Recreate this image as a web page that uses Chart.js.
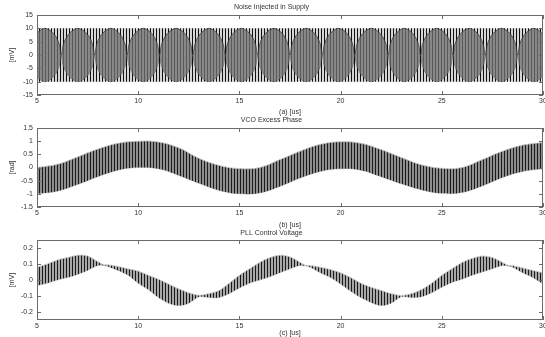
<!DOCTYPE html>
<html>
<head>
<meta charset="utf-8">
<script src="https://cdn.jsdelivr.net/npm/chart.js@4.4.1/dist/chart.umd.min.js"></script>
<style>
  html, body { margin: 0; padding: 0; background: #fff; }
  body { width: 545px; height: 337px; position: relative; overflow: hidden; }
  canvas { position: absolute; left: 0; }
</style>
</head>
<body>
<canvas id="noiseChart" width="545" height="116" style="top:0"></canvas>
<canvas id="phaseChart" width="545" height="116" style="top:113px"></canvas>
<canvas id="ctrlChart" width="545" height="112" style="top:225px"></canvas>
<script>
// data
const timeTicks = [5, 10, 15, 20, 25, 30];

// (a) noise: +-10 mV band, beat pattern crossings (us)
const noiseLevel = 10;
const beatCrossings = [4.6, 6.2, 7.85, 9.45, 11.05, 12.7, 14.3, 15.9, 17.5, 19.1, 20.7, 22.35, 23.95, 25.55, 27.15, 28.75, 30.35];
const lensPos = [0, 0.06, 0.17, 0.32, 0.5, 0.68, 0.83, 0.94];
const lensShape = [0, 0.4, 0.7, 0.9, 1, 0.9, 0.7, 0.4];

// (b) VCO excess phase envelope [rad]
const phaseTime = [5, 6, 7, 8, 9, 10, 11, 12, 13, 14, 15, 16, 17, 18, 19, 20, 21, 22, 23, 24, 25, 26, 27, 28, 29, 30];
const phaseUpper = [0.0, 0.12, 0.4, 0.7, 0.92, 1.0, 0.97, 0.75, 0.35, 0.08, -0.04, 0.0, 0.3, 0.62, 0.88, 0.98, 0.92, 0.68, 0.38, 0.1, -0.03, 0.0, 0.3, 0.62, 0.85, 0.95];
const phaseLower = [-1.0, -0.9, -0.65, -0.35, -0.1, 0.0, -0.05, -0.3, -0.6, -0.87, -1.0, -0.97, -0.72, -0.4, -0.15, -0.05, -0.1, -0.35, -0.62, -0.85, -0.98, -0.95, -0.7, -0.38, -0.15, -0.05];

// (c) PLL control voltage envelope [mV]
const ctrlTime = [5, 5.5, 6, 6.5, 7, 7.5, 8, 8.3, 8.5, 9, 9.5, 10, 10.5, 11, 11.5, 12, 12.5, 13, 13.5, 14, 14.5, 15, 15.5, 16, 16.5, 17, 17.5, 18, 18.3, 18.5, 19, 19.5, 20, 20.5, 21, 21.5, 22, 22.5, 23, 23.5, 24, 24.5, 25, 25.5, 26, 26.5, 27, 27.5, 28, 28.3, 28.5, 29, 29.5, 30];
const ctrlUpper = [0.08, 0.1, 0.125, 0.14, 0.155, 0.15, 0.115, 0.095, 0.095, 0.085, 0.07, 0.056, 0.03, 0.005, -0.025, -0.055, -0.08, -0.095, -0.085, -0.065, -0.02, 0.03, 0.07, 0.11, 0.14, 0.155, 0.145, 0.11, 0.09, 0.09, 0.08, 0.065, 0.045, 0.015, -0.02, -0.045, -0.065, -0.085, -0.097, -0.085, -0.06, -0.02, 0.03, 0.07, 0.11, 0.135, 0.15, 0.14, 0.11, 0.09, 0.09, 0.075, 0.06, 0.045];
const ctrlLower = [-0.035, -0.02, 0.0, 0.015, 0.035, 0.06, 0.09, 0.09, 0.085, 0.06, 0.03, -0.02, -0.06, -0.11, -0.145, -0.16, -0.145, -0.105, -0.11, -0.11, -0.085, -0.05, -0.02, 0.0, 0.02, 0.045, 0.07, 0.09, 0.088, 0.08, 0.045, 0.015, -0.025, -0.07, -0.11, -0.14, -0.16, -0.145, -0.105, -0.11, -0.105, -0.08, -0.045, -0.015, 0.005, 0.03, 0.05, 0.07, 0.09, 0.087, 0.08, 0.045, 0.015, -0.025];

const FONT = { family: "'Liberation Sans', Arial, sans-serif", size: 7, weight: 'normal' };
const TXT = '#333';

function stripes(ctx, dark, light, n) {
    const c = document.createElement('canvas');
    c.width = 1 + n; c.height = 1;
    const g = c.getContext('2d');
    g.fillStyle = light; g.fillRect(0, 0, c.width, 1);
    g.fillStyle = dark; g.fillRect(0, 0, 1, 1);
    return ctx.createPattern(c, 'repeat');
}

function pts(xs, ys) {
    return xs.map((x, i) => ({ x: x, y: ys[i] }));
}

// matlab style box with inward ticks
const frame = {
    id: 'frame',
    afterDraw(chart) {
        const { ctx, chartArea: a, scales: { x, y } } = chart;
        ctx.save();
        ctx.strokeStyle = '#6a6a6a';
        ctx.lineWidth = 1;
        ctx.strokeRect(Math.round(a.left) + 0.5, Math.round(a.top) + 0.5, Math.round(a.right - a.left) - 1, Math.round(a.bottom - a.top) - 1);
        ctx.beginPath();
        x.ticks.forEach(t => {
            const p = Math.round(x.getPixelForValue(t.value)) + 0.5;
            ctx.moveTo(p, a.bottom); ctx.lineTo(p, a.bottom - 4);
            ctx.moveTo(p, a.top); ctx.lineTo(p, a.top + 4);
        });
        y.ticks.forEach(t => {
            const p = Math.round(y.getPixelForValue(t.value)) + 0.5;
            ctx.moveTo(a.left, p); ctx.lineTo(a.left + 4, p);
            ctx.moveTo(a.right, p); ctx.lineTo(a.right - 4, p);
        });
        ctx.stroke();
        ctx.restore();
    }
};

function makeChart(id, datasets, cfg) {
    return new Chart(document.getElementById(id), {
        type: 'line',
        data: { datasets: datasets },
        options: {
            responsive: false,
            animation: false,
            events: [],
            layout: { padding: { left: 0, right: 2, top: 0, bottom: 0 } },
            elements: { point: { radius: 0 }, line: { tension: 0.4 } },
            plugins: {
                legend: { display: false },
                tooltip: { enabled: false },
                title: { display: true, text: cfg.title, font: FONT, color: TXT, padding: cfg.titlePad }
            },
            scales: {
                x: {
                    type: 'linear', min: 5, max: 30,
                    afterBuildTicks: s => { s.ticks = timeTicks.map(v => ({ value: v })); },
                    ticks: { font: FONT, color: TXT, padding: 2, maxRotation: 0, autoSkip: false },
                    grid: { display: false, drawTicks: false },
                    border: { display: false },
                    title: { display: true, text: cfg.xTitle, font: FONT, color: TXT, padding: { top: cfg.xTitlePad, bottom: 0 } },
                    afterFit: s => { s.height = cfg.xHeight; s.paddingLeft = 0; s.paddingRight = 0; }
                },
                y: {
                    type: 'linear', min: cfg.yMin, max: cfg.yMax,
                    afterBuildTicks: s => { s.ticks = cfg.yTicks.map(v => ({ value: v })); },
                    ticks: { font: FONT, color: TXT, padding: 4, callback: v => String(+v.toFixed(2)) },
                    grid: { display: false, drawTicks: false },
                    border: { display: false },
                    title: { display: true, text: cfg.yTitle, font: FONT, color: TXT, padding: { top: 7.8, bottom: 0 } },
                    afterFit: s => { s.width = 37; s.paddingTop = 0; s.paddingBottom = 0; }
                }
            }
        },
        plugins: [frame]
    });
}

// (a) noise injected in supply
const ctx1 = document.getElementById('noiseChart').getContext('2d');
const lensUp = [], lensDn = [];
for (let i = 0; i < beatCrossings.length - 1; i++) {
    const a = beatCrossings[i], b = beatCrossings[i + 1];
    lensPos.forEach((t, k) => {
        lensUp.push({ x: a + t * (b - a), y: noiseLevel * lensShape[k] });
        lensDn.push({ x: a + t * (b - a), y: -noiseLevel * lensShape[k] });
    });
}
lensUp.push({ x: beatCrossings[beatCrossings.length - 1], y: 0 });
lensDn.push({ x: beatCrossings[beatCrossings.length - 1], y: 0 });

makeChart('noiseChart', [
    { data: lensUp, fill: '+1', backgroundColor: stripes(ctx1, '#5a5a5a', '#888888', 2), borderColor: '#222', borderWidth: 0.6, tension: 0.3 },
    { data: lensDn, fill: false, borderColor: '#222', borderWidth: 0.6, tension: 0.3 },
    { data: pts([5, 30], [noiseLevel, noiseLevel]), fill: '+1', backgroundColor: stripes(ctx1, '#111', '#d6d6d6', 2), borderWidth: 0 },
    { data: pts([5, 30], [-noiseLevel, -noiseLevel]), fill: false, borderWidth: 0 }
], { title: 'Noise Injected in Supply', titlePad: { top: 2.5, bottom: 4.1 }, xTitle: '(a) [us]', yTitle: '[mV]', xTitlePad: 1.8, xHeight: 21,
     yMin: -15, yMax: 15, yTicks: [-15, -10, -5, 0, 5, 10, 15] });

// (b) VCO excess phase
const ctx2 = document.getElementById('phaseChart').getContext('2d');
makeChart('phaseChart', [
    { data: pts(phaseTime, phaseUpper), fill: '+1', backgroundColor: stripes(ctx2, '#1a1a1a', '#8e8e8e', 2), borderColor: '#c8c8c8', borderWidth: 0.8 },
    { data: pts(phaseTime, phaseLower), fill: false, borderColor: '#c8c8c8', borderWidth: 0.8 }
], { title: 'VCO Excess Phase', titlePad: { top: 2.5, bottom: 4.1 }, xTitle: '(b) [us]', yTitle: '[rad]', xTitlePad: 4.5, xHeight: 22,
     yMin: -1.5, yMax: 1.5, yTicks: [-1.5, -1, -0.5, 0, 0.5, 1, 1.5] });

// (c) PLL control voltage
const ctx3 = document.getElementById('ctrlChart').getContext('2d');
makeChart('ctrlChart', [
    { data: pts(ctrlTime, ctrlUpper), fill: '+1', backgroundColor: stripes(ctx3, '#1a1a1a', '#a8a8a8', 2), borderColor: '#cccccc', borderWidth: 0.8, tension: 0.3 },
    { data: pts(ctrlTime, ctrlLower), fill: false, borderColor: '#cccccc', borderWidth: 0.8, tension: 0.3 }
], { title: 'PLL Control Voltage', titlePad: { top: 4, bottom: 2.6 }, xTitle: '(c) [us]', yTitle: '[mV]', xTitlePad: 0, xHeight: 17,
     yMin: -0.25, yMax: 0.25, yTicks: [-0.2, -0.1, 0, 0.1, 0.2] });
</script>
</body>
</html>
